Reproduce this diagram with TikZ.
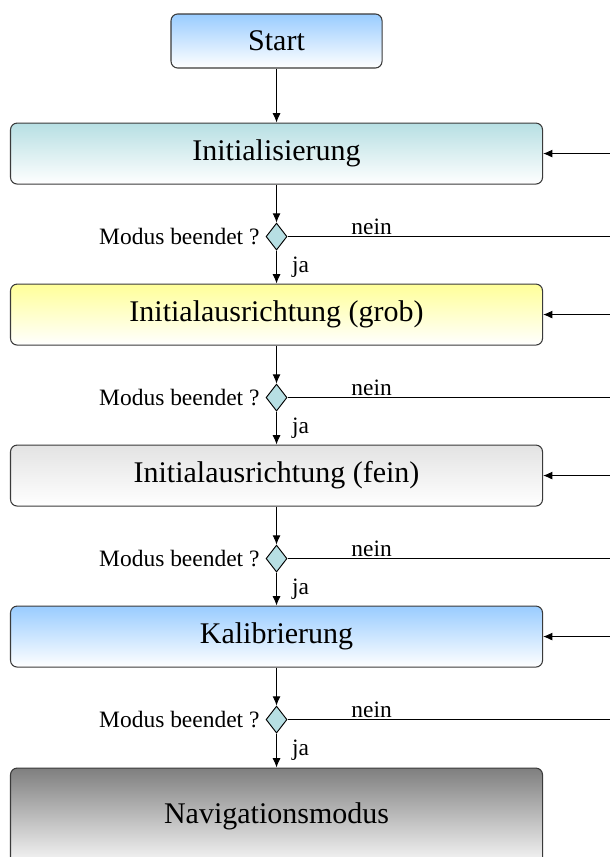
\documentclass[tikz,border=0pt]{standalone}
\usepackage{fontspec}
\setmainfont{Liberation Serif}
\usetikzlibrary{positioning,shapes.geometric,arrows.meta}
\definecolor{hellblau}{HTML}{99CCFF}
\definecolor{tuerkis}{HTML}{B7DFE3}
\definecolor{hellgelb}{HTML}{FFFF99}
\definecolor{hellgrau}{HTML}{E3E3E3}
\definecolor{mittelgrau}{HTML}{7F7F7F}
\definecolor{rahmen}{HTML}{3A3A3A}

\begin{document}
\begin{tikzpicture}[
	modus/.style={draw=rahmen, line width=0.8pt, rounded corners=5pt, minimum width=399pt, minimum height=45.75pt, font=\fontsize{22.5}{26}\selectfont, bottom color=white},
	frage/.style={diamond, draw=black, line width=0.7pt, fill=tuerkis, minimum width=15.75pt, minimum height=20.25pt, inner sep=0pt},
	pfeil/.style={-{Latex[length=7pt,width=6pt]}, line width=0.75pt},
	klein/.style={font=\fontsize{17.6}{20}\selectfont},
	node distance=28.5pt and 51pt
]
	\useasboundingbox (-207.4pt,30.75pt) rectangle (250.1pt,-612pt);
	\clip (-207.4pt,30.75pt) rectangle (250.1pt,-612pt);

	\node[modus, minimum width=158.25pt, minimum height=40.5pt, top color=hellblau] (start) {Start};
	\node[modus, top color=tuerkis, below=40.5pt of start] (init) {Initialisierung};
	\node[frage, below=of init] (f1) {};
	\node[modus, top color=hellgelb, below=24.75pt of f1] (grob) {Initialausrichtung (grob)};
	\node[frage, below=of grob] (f2) {};
	\node[modus, top color=hellgrau, below=24.75pt of f2] (fein) {Initialausrichtung (fein)};
	\node[frage, below=of fein] (f3) {};
	\node[modus, top color=hellblau, below=24.75pt of f3] (kal) {Kalibrierung};
	\node[frage, below=of kal] (f4) {};
	\node[modus, top color=mittelgrau, bottom color=gray!6, minimum height=72pt, below=25.5pt of f4] (nav) {Navigationsmodus};

	\node[klein, left=1pt of f1] (m1) {Modus beendet ?};
	\node[klein, left=1pt of f2] (m2) {Modus beendet ?};
	\node[klein, left=1pt of f3] (m3) {Modus beendet ?};
	\node[klein, left=1pt of f4] (m4) {Modus beendet ?};

	\coordinate[right=of init] (r1);
	\coordinate[right=of grob] (r2);
	\coordinate[right=of fein] (r3);
	\coordinate[right=of kal] (r4);
	\coordinate (n1) at (f1 -| r1);
	\coordinate (n2) at (f2 -| r2);
	\coordinate (n3) at (f3 -| r3);
	\coordinate (n4) at (f4 -| r4);

	\draw[pfeil] (start) -- (init);
	\draw[pfeil] (init) -- (f1);
	\draw[pfeil] (f1) -- node[klein, right=8pt] {ja} (grob);
	\draw[line width=0.75pt] (f1) -- node[klein, above, pos=0.26, inner sep=1pt] {nein} (n1);
	\draw[pfeil] (r1) -- (init);

	\draw[pfeil] (grob) -- (f2);
	\draw[pfeil] (f2) -- node[klein, right=8pt] {ja} (fein);
	\draw[line width=0.75pt] (f2) -- node[klein, above, pos=0.26, inner sep=1pt] {nein} (n2);
	\draw[pfeil] (r2) -- (grob);

	\draw[pfeil] (fein) -- (f3);
	\draw[pfeil] (f3) -- node[klein, right=8pt] {ja} (kal);
	\draw[line width=0.75pt] (f3) -- node[klein, above, pos=0.26, inner sep=1pt] {nein} (n3);
	\draw[pfeil] (r3) -- (fein);

	\draw[pfeil] (kal) -- (f4);
	\draw[pfeil] (f4) -- node[klein, right=8pt] {ja} (nav);
	\draw[line width=0.75pt] (f4) -- node[klein, above, pos=0.26, inner sep=1pt] {nein} (n4);
	\draw[pfeil] (r4) -- (kal);
\end{tikzpicture}
\end{document}
